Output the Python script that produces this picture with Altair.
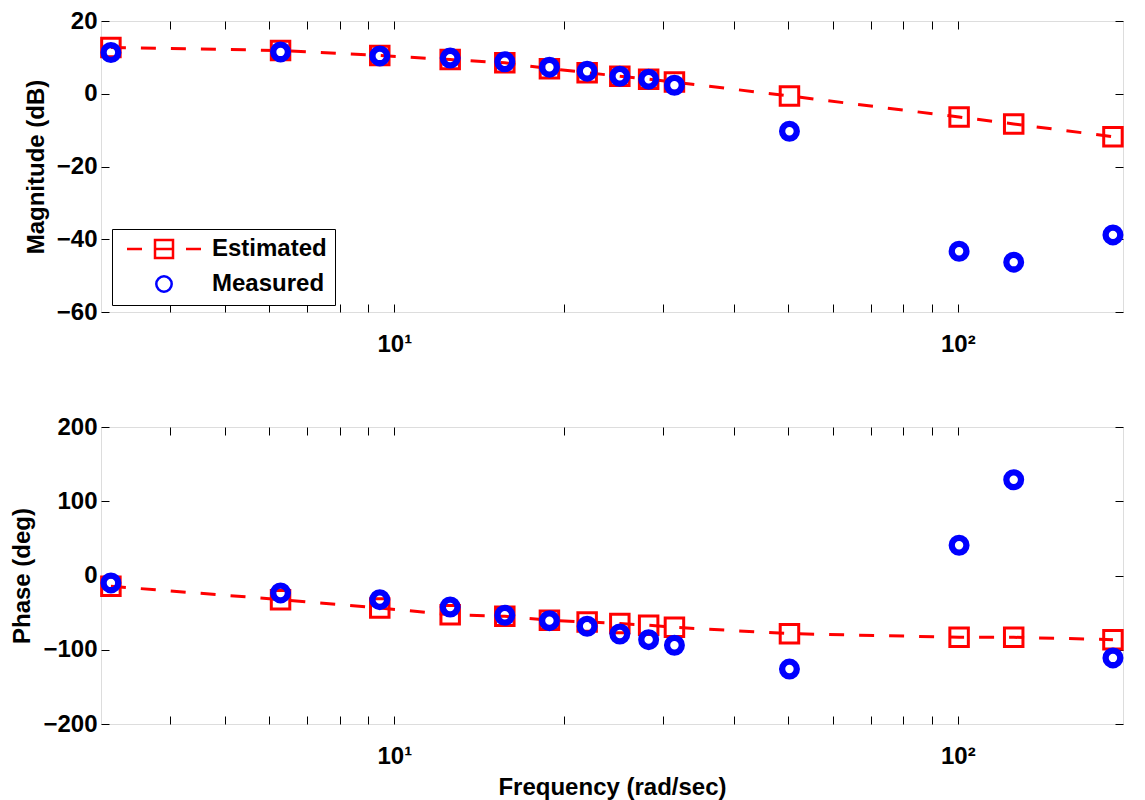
import altair as alt
import pandas as pd

# ---- data ----
freq = [3.1416, 6.2832, 9.4248, 12.566, 15.708, 18.850, 21.991,
        25.133, 28.274, 31.416, 50.265, 100.53, 125.66, 188.50]
est_mag = [12.7, 11.9, 10.5, 9.4, 8.5, 6.9, 5.8, 4.8, 4.0, 3.2, -0.6, -6.4, -8.3, -11.8]
meas_mag = [11.35, 11.5, 10.4, 9.8, 8.8, 7.3, 6.2, 4.8, 4.0, 2.35, -10.3, -43.3, -46.3, -38.8]
est_phase = [-14.5, -32.5, -43.7, -52.7, -55.0, -60.3, -62.6, -64.8, -67.0, -69.8,
             -78.3, -83.2, -83.2, -86.4]
meas_phase = [-10.0, -23.5, -32.5, -42.4, -53.6, -60.8, -68.4, -78.8, -86.4, -94.0,
              -126.0, 40.7, 129.0, -111.0]

series_names = ["Estimated", "Measured"]
x_domain = [3.017, 196.4]
x_ticks = [4, 5, 6, 7, 8, 9, 10, 20, 30, 40, 50, 60, 70, 80, 90, 100]
mag_ticks = [-60, -40, -20, 0, 20]
phase_ticks = [-200, -100, 0, 100, 200]

df_est = pd.DataFrame({"freq": freq, "mag": est_mag, "phase": est_phase, "series": "Estimated"})
df_meas = pd.DataFrame({"freq": freq, "mag": meas_mag, "phase": meas_phase, "series": "Measured"})
df_all = pd.concat([df_est, df_meas], ignore_index=True)

FONT = "Liberation Sans"
RED = "#ff0000"
BLUE = "#0000ff"
W = 1022
LBL = "datum.value == 10 ? '10\u00b9' : (datum.value == 100 ? '10\u00b2' : '')"

EST_PATH = "M-3.7,0H-2.2M2.2,0H3.7M-0.9,-0.9H0.9V0.9H-0.9ZM-0.9,0H0.9"
k = 0.4253
r = 0.77
MEAS_PATH = (f"M{r},0C{r},{k},{k},{r},0,{r}C-{k},{r},-{r},{k},-{r},0"
             f"C-{r},-{k},-{k},-{r},0,-{r}C{k},-{r},{r},-{k},{r},0Z")


def tick_axis(orient, values):
    return alt.Axis(orient=orient, values=values, offset=-8, tickSize=8, tickColor="black",
                    tickWidth=1, domain=False, grid=False, labels=False, title=None)


def panel(yfield, ydomain, yticks, ytitle, xtitle, with_legend, height):
    xs = alt.Scale(type="log", domain=x_domain, nice=False)
    ys = alt.Scale(domain=ydomain, nice=False, zero=False)
    common = dict(labelFont=FONT, labelFontSize=24, labelFontWeight="bold", labelColor="black",
                  titleFont=FONT, titleFontSize=24, titleFontWeight="bold", titleColor="black",
                  tickColor="black", tickWidth=1, tickSize=8, offset=-8, domain=False, grid=False,
                  labelOverlap=False, labelFlush=False)
    if xtitle:
        ax_bottom = alt.Axis(orient="bottom", values=x_ticks, labelExpr=LBL, labelPadding=20,
                             labelAngle=0, labelBound=False, title=xtitle, titlePadding=7, **common)
    else:
        ax_bottom = alt.Axis(orient="bottom", values=x_ticks, labelExpr=LBL, labelPadding=20,
                             labelAngle=0, labelBound=False, title=None, **common)
    ax_left = alt.Axis(orient="left", values=yticks, labelPadding=4, title=ytitle,
                       titlePadding=8, **common)

    line = alt.Chart(df_est).mark_line(color=RED, strokeWidth=3, strokeDash=[15, 15]).encode(
        x=alt.X("freq:Q", scale=xs, axis=ax_bottom),
        y=alt.Y(f"{yfield}:Q", scale=ys, axis=ax_left),
    )
    squares = alt.Chart(df_est).mark_point(shape="square", size=342, strokeWidth=3, color=RED,
                                           filled=False, opacity=1).encode(
        x=alt.X("freq:Q", scale=xs, axis=tick_axis("top", x_ticks)),
        y=alt.Y(f"{yfield}:Q", scale=ys, axis=tick_axis("right", yticks)),
    )
    circles = alt.Chart(df_meas).mark_point(shape="circle", size=216, strokeWidth=6.3, color=BLUE,
                                            filled=False, opacity=1).encode(
        x=alt.X("freq:Q", scale=xs, axis=None),
        y=alt.Y(f"{yfield}:Q", scale=ys, axis=None),
    )
    layers = [line, squares, circles]
    if with_legend:
        leg = alt.Legend(orient="none", legendX=11, legendY=208, title=None,
                         labelFont=FONT, labelFontSize=24, labelFontWeight="bold",
                         labelColor="black", symbolSize=400, symbolStrokeWidth=2.5,
                         symbolOpacity=1, symbolOffset=32, labelOffset=36, padding=8,
                         rowPadding=8, strokeColor="black", fillColor="white")
        carrier = alt.Chart(df_all).mark_point(filled=False, opacity=0).encode(
            x=alt.X("freq:Q", scale=xs, axis=None),
            y=alt.Y(f"{yfield}:Q", scale=ys, axis=None),
            color=alt.Color("series:N", scale=alt.Scale(domain=series_names, range=[RED, BLUE]),
                            legend=leg),
            shape=alt.Shape("series:N", scale=alt.Scale(domain=series_names,
                                                       range=[EST_PATH, MEAS_PATH]),
                            legend=leg),
        )
        layers.append(carrier)
    return alt.layer(*layers).resolve_axis(x="independent", y="independent").properties(
        width=W, height=height)


top = panel("mag", [-60, 20], mag_ticks, "Magnitude (dB)", None, True, 291)
bottom = panel("phase", [-200, 200], phase_ticks, "Phase (deg)", "Frequency (rad/sec)", False, 297)

chart = alt.vconcat(top, bottom, spacing=57).properties(
    padding={"left": 2, "top": 0, "right": 0, "bottom": 0},
    background="white",
).configure_view(stroke="black", strokeWidth=1).configure(font=FONT)

chart.save("out.html", embed_options={"renderer": "svg", "actions": False})
